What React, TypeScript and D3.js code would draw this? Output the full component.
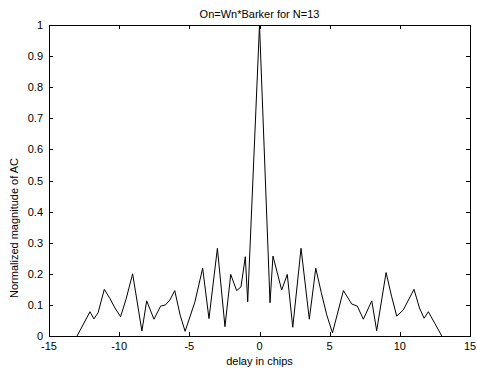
import React from "react";
import * as d3 from "d3";

// delay (chips) and normalized AC magnitude
const delays = [
  -13, -12.08, -11.8, -11.5, -11.06, -10.65, -10.3, -9.9, -9.5, -9.04, -8.38,
  -8.04, -7.52, -7.05, -6.7, -6.38, -6.04, -5.66, -5.3, -4.6, -4.05, -3.6,
  -3.0, -2.46, -2.05, -1.63, -1.32, -1.01, -0.84, 0, 0.75, 0.96, 1.58, 1.98,
  2.37, 2.96, 3.55, 4.01, 4.4, 4.79, 5.2, 5.98, 6.57, 6.97, 7.4, 8.0, 8.35,
  9.02, 9.42, 9.78, 10.25, 11.01, 11.4, 11.73, 12.03, 12.5, 12.99,
];
const magnitudes = [
  0, 0.078, 0.055, 0.075, 0.15, 0.12, 0.09, 0.062, 0.12, 0.2, 0.016, 0.113,
  0.054, 0.096, 0.1, 0.116, 0.146, 0.068, 0.015, 0.11, 0.218, 0.056, 0.282,
  0.03, 0.198, 0.146, 0.158, 0.255, 0.11, 1, 0.107, 0.257, 0.148, 0.198,
  0.028, 0.282, 0.054, 0.218, 0.14, 0.068, 0.01, 0.146, 0.103, 0.096, 0.054,
  0.113, 0.017, 0.204, 0.126, 0.064, 0.084, 0.15, 0.09, 0.057, 0.078, 0.04, 0,
];
const xTicks = [-15, -10, -5, 0, 5, 10, 15];
const yTicks = [0, 0.1, 0.2, 0.3, 0.4, 0.5, 0.6, 0.7, 0.8, 0.9, 1];

const width = 477,
  height = 372;
const left = 49,
  right = 470,
  top = 25,
  bottom = 336;
const tickLen = 4;
const font = "'Liberation Sans', Arial, sans-serif";

export default function App() {
  const x = d3.scaleLinear().domain([-15, 15]).range([left, right]);
  const y = d3.scaleLinear().domain([0, 1]).range([bottom, top]);

  const points: [number, number][] = delays.map((d, i) => [d, magnitudes[i]]);
  const path = d3
    .line<[number, number]>()
    .x((d) => x(d[0]))
    .y((d) => y(d[1]))(points);

  return (
    <svg
      width={width}
      height={height}
      style={{ position: "absolute", left: 0, top: 0, background: "#fff" }}
      fontFamily={font}
      fontSize={11}
    >
      <rect x={0} y={0} width={width} height={height} fill="#fff" />
      <path d={path || ""} fill="none" stroke="#000" strokeWidth={1} />
      <rect
        x={left + 0.5}
        y={top + 0.5}
        width={right - left}
        height={bottom - top}
        fill="none"
        stroke="#000"
        strokeWidth={1}
      />
      {/* x ticks on bottom and top */}
      {xTicks.map((t) => (
        <g key={"x" + t}>
          <line
            x1={Math.round(x(t)) + 0.5}
            x2={Math.round(x(t)) + 0.5}
            y1={bottom}
            y2={bottom - tickLen}
            stroke="#000"
          />
          <line
            x1={Math.round(x(t)) + 0.5}
            x2={Math.round(x(t)) + 0.5}
            y1={top}
            y2={top + tickLen}
            stroke="#000"
          />
          <text x={x(t)} y={bottom + 14} textAnchor="middle" fill="#000">
            {t}
          </text>
        </g>
      ))}
      {/* y ticks on left and right */}
      {yTicks.map((t) => (
        <g key={"y" + t}>
          <line
            x1={left}
            x2={left + tickLen}
            y1={Math.round(y(t)) + 0.5}
            y2={Math.round(y(t)) + 0.5}
            stroke="#000"
          />
          <line
            x1={right}
            x2={right - tickLen}
            y1={Math.round(y(t)) + 0.5}
            y2={Math.round(y(t)) + 0.5}
            stroke="#000"
          />
          <text x={left - 6} y={y(t) + 4} textAnchor="end" fill="#000">
            {t}
          </text>
        </g>
      ))}
      <text x={(left + right) / 2} y={18} textAnchor="middle" fill="#000">
        On=Wn*Barker for N=13
      </text>
      <text x={(left + right) / 2} y={365} textAnchor="middle" fill="#000">
        delay in chips
      </text>
      <text
        transform={`translate(18,228) rotate(-90)`}
        textAnchor="middle"
        fill="#000"
      >
        Normalized magnitude of AC
      </text>
    </svg>
  );
}
